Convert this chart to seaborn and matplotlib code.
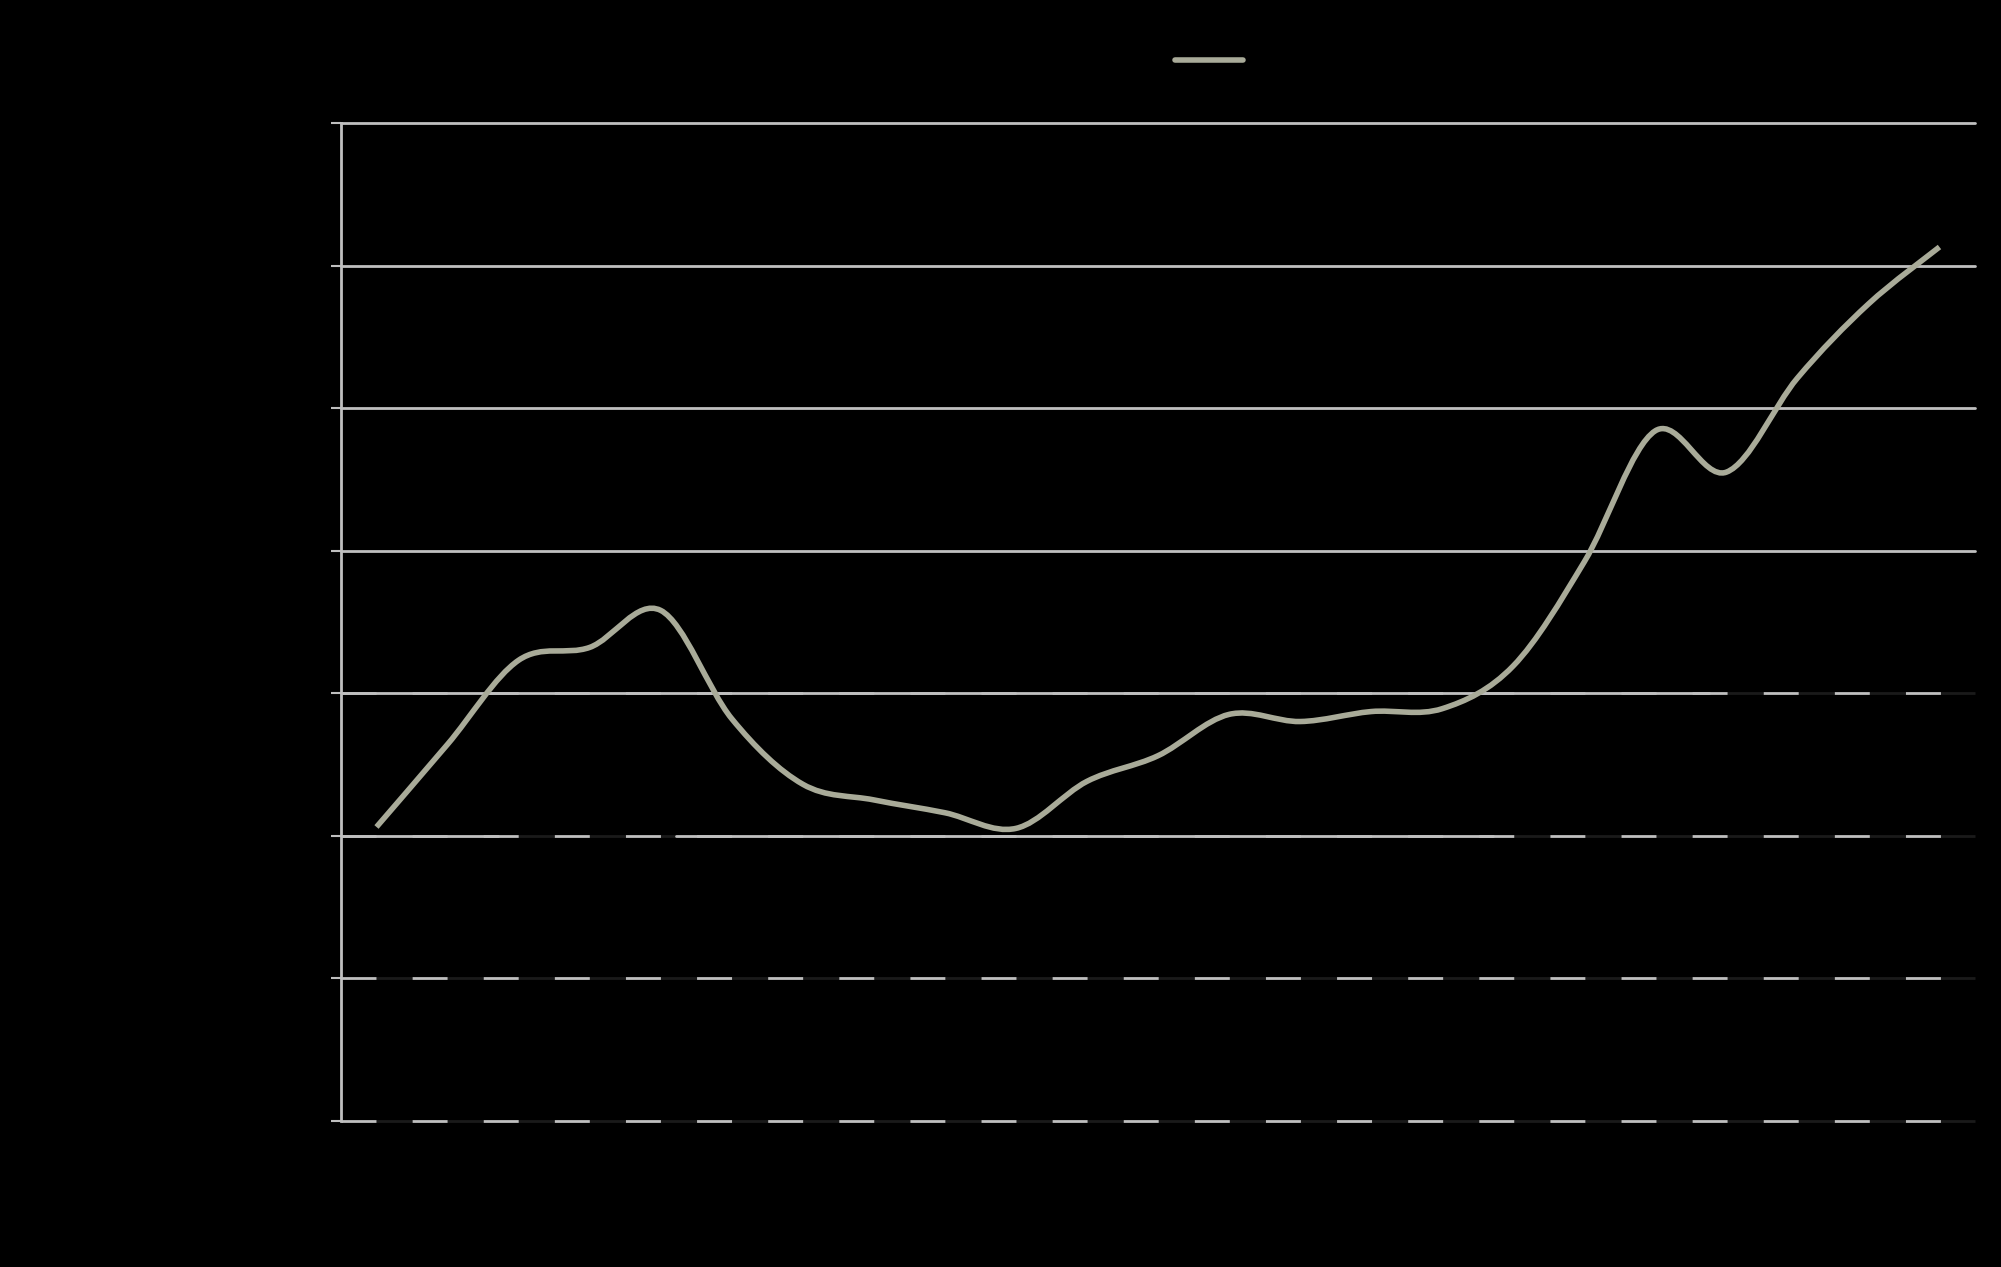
import numpy as np
import pandas as pd
import matplotlib
matplotlib.use("Agg")
import matplotlib.pyplot as plt
import seaborn as sns
from matplotlib.path import Path
from matplotlib.patches import PathPatch

# Data (axis labels are not visible in the reference)
positions = list(range(23))
values = [20.6, 26.4, 32.3, 33.2, 35.8, 28.2, 23.6, 22.5, 21.6, 20.5, 23.8, 25.6,
          28.5, 28.0, 28.7, 28.9, 31.9, 39.2, 48.4, 45.5, 52.1, 57.3, 61.3]
y_ticks = [0, 10, 20, 30, 40, 50, 60, 70]

line_color = "#a9ab99"
grid_color = "#bfbfbf"
gap_color = "#1a1a1a"

sns.set_theme(style="dark")
plt.rcParams["lines.scale_dashes"] = False

df = pd.DataFrame({"pos": positions, "value": values})

fig = plt.figure(figsize=(20.01, 12.67), dpi=100, facecolor="black")
ax = fig.add_axes([0.1704, 0.1156, 0.8166, 0.7873])
ax.set_facecolor("black")

sns.lineplot(data=df, x="pos", y="value", ax=ax, color=line_color,
             linewidth=4, label=" ", zorder=3)

ax.set_xlim(-0.5, 22.5)
ax.set_ylim(0, 70)
ax.set_yticks(y_ticks)
ax.set_xticks([])
ax.set_xlabel("")
ax.set_ylabel("")
ax.grid(False)

# gridlines: upper ones solid, lower ones dashed with solid stretches
for y in y_ticks:
    if y >= 40:
        ax.axhline(y, color=grid_color, lw=2, zorder=1, clip_on=False)
    else:
        ax.axhline(y, color=grid_color, lw=2, dashes=(25.2, 26), gapcolor=gap_color,
                   zorder=1, clip_on=False)
solid_parts = {20: [(0, 0.096), (0.205, 0.705)], 30: [(0, 0.837)]}
for y, parts in solid_parts.items():
    for a, b in parts:
        ax.axhline(y, xmin=a, xmax=b, color=grid_color, lw=2, zorder=1.5)

for side in ["top", "right", "bottom"]:
    ax.spines[side].set_visible(False)
ax.spines["left"].set_color(grid_color)
ax.spines["left"].set_linewidth(2)
ax.tick_params(axis="y", length=7.2, width=1.5, color=grid_color, labelleft=False, left=True)
ax.tick_params(axis="x", length=0, labelbottom=False)

# legend (handle only)
leg = ax.legend(loc="center", bbox_to_anchor=(0.6057, 0.9515), bbox_transform=fig.transFigure,
                frameon=False, handlelength=3.5, handletextpad=0, borderpad=0, fontsize=14)
for t in leg.get_texts():
    t.set_color("black")

# smooth the drawn line (curve passes through every data point)
ln = ax.lines[0]
xs, ys = np.asarray(ln.get_xdata(), float), np.asarray(ln.get_ydata(), float)
pts = np.column_stack([xs, ys])
verts = [pts[0]]
codes = [Path.MOVETO]
n = len(pts)
for i in range(n - 1):
    p0 = pts[max(i - 1, 0)]
    p1 = pts[i]
    p2 = pts[i + 1]
    p3 = pts[min(i + 2, n - 1)]
    c1 = p1 + (p2 - p0) / 6
    c2 = p2 - (p3 - p1) / 6
    verts += [c1, c2, p2]
    codes += [Path.CURVE4] * 3
ln.set_visible(False)
ax.add_patch(PathPatch(Path(verts, codes), facecolor="none", edgecolor=line_color,
                       lw=4, zorder=3, capstyle="butt"))

fig.savefig("out.png", dpi=100, facecolor="black")
